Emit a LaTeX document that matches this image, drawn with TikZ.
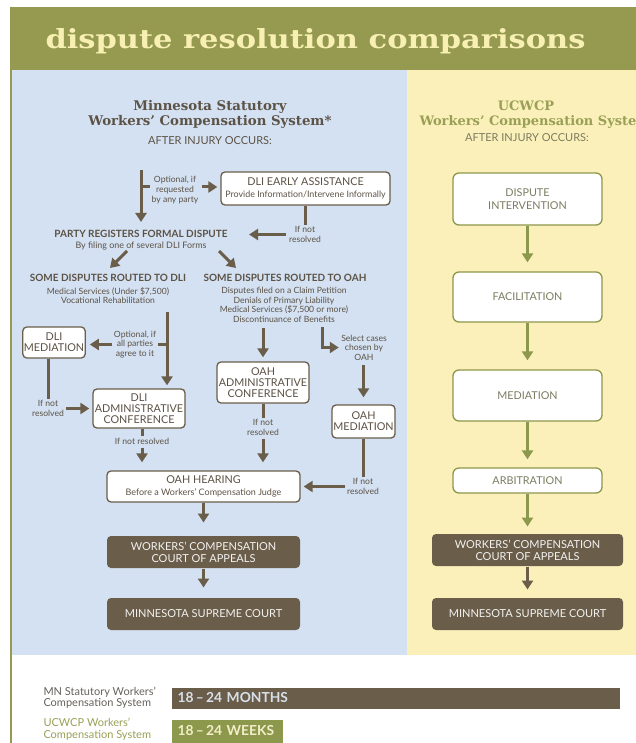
\documentclass[tikz,border=0pt]{standalone}
\usepackage{graphicx}
\usepackage{fontspec}
\setmainfont{DejaVu Serif}
\setsansfont{Lato}
\usetikzlibrary{arrows.meta, positioning, calc}
\definecolor{colive}{HTML}{959A50}
\definecolor{ccream}{HTML}{F7F0B2}
\definecolor{cblue}{HTML}{D3E1F2}
\definecolor{cyellow}{HTML}{FBF0B9}
\definecolor{cdark}{HTML}{6A5D4A}
\definecolor{ctext}{HTML}{5C5245}
\definecolor{cgreen}{HTML}{8C984B}
\definecolor{chead}{HTML}{99A056}
\definecolor{cgtext}{HTML}{7C7C62}
\definecolor{cgrey}{HTML}{66625C}
\definecolor{cpale}{HTML}{D8E0EA}
\definecolor{cwheat}{HTML}{F3EDC9}
\tikzset{
  every picture/.style={font=\sffamily, line width=1pt},
  lbox/.style={draw=cdark, fill=white, rounded corners=4pt, line width=1.3pt, align=center, text=ctext, inner sep=1pt, font=\sffamily\fontsize{10.8}{11}\selectfont},
  dbox/.style={fill=cdark, rounded corners=4pt, align=center, text=white!92!cdark, minimum height=32pt, font=\sffamily\fontsize{11}{12}\selectfont},
  ubox/.style={draw=cgreen, fill=white, rounded corners=6pt, line width=1.3pt, align=center, text=cgtext, minimum width=149pt, font=\sffamily\fontsize{10.8}{12.5}\selectfont},
  note/.style={font=\sffamily\fontsize{8.6}{9.6}\selectfont, text=ctext, align=center, inner sep=1pt},
  head/.style={font=\sffamily\bfseries\fontsize{10}{10}\selectfont, text=ctext, inner sep=1pt},
  link/.style={draw=cdark, line width=3pt},
  arrow/.style={link, -{Triangle[length=9pt, width=11pt]}},
  garrow/.style={arrow, draw=cgreen},
  bar/.style={anchor=north west, fill=#1, minimum height=21pt, inner xsep=6pt, inner ysep=0pt, align=left, font=\sffamily\bfseries\fontsize{13.8}{14}\selectfont},
  lbl/.style={anchor=west, align=left, inner sep=0pt, font=\sffamily\fontsize{11}{11.5}\selectfont},
}

\begin{document}
\begin{tikzpicture}[x=1pt, y=-1pt]
  \useasboundingbox (0,0) rectangle (636,743);
  % backgrounds
  \fill[white] (0,0) rectangle (636,743);
  \fill[colive] (11,7) rectangle (636,70);
  \fill[cblue] (12,70) rectangle (407,655);
  \fill[cyellow] (407,70) rectangle (636,655);
  \draw[colive, line width=1.2pt] (11,7) -- (11,743);
  \node[anchor=base west, inner sep=0pt, text=ccream, font=\rmfamily\bfseries] (title) at (45,49) {\resizebox{540pt}{20pt}{dispute resolution comparisons}};

  % Minnesota statutory side
  \node[text=ctext, align=center, font=\rmfamily\bfseries\fontsize{13.3}{15}\selectfont] (mnhead) at (210,114) {Minnesota Statutory\\Workers' Compensation System*};
  \node[text=ctext, font=\sffamily\fontsize{11}{12}\selectfont] (mnafter) at (210,141) {AFTER INJURY OCCURS:};

  \node[lbox, minimum width=169pt, minimum height=33pt] (early) at (305.5,188.5) {DLI EARLY ASSISTANCE\\[1pt]{\fontsize{8.9}{9}\selectfont Provide Information/Intervene Informally}};
  \node[note] (reqnote) at (175,190) {Optional, if\\requested\\by any party};
  \coordinate (start) at (141,170);
  \coordinate (reqA) at (141,187);
  \coordinate (partytop) at (141,222);
  \draw[arrow] (start) -- (partytop);
  \draw[link] (reqA) -- (reqA -| reqnote.west);
  \draw[arrow, shorten <=2pt, shorten >=3pt] (reqA -| reqnote.east) -- (reqA -| early.west);

  \node[note] (nr1) at (305,234.5) {If not\\resolved};
  \draw[link] (early.south) -- (early.south |- nr1.north);
  \node[note, font=\sffamily\fontsize{8.9}{11}\selectfont] (party) at (141,240) {\textbf{\fontsize{10}{11}\selectfont PARTY REGISTERS FORMAL DISPUTE}\\By filing one of several DLI Forms};
  \draw[arrow, shorten <=2pt, shorten >=20pt] (nr1.west) -- (nr1.west -| party.east);

  \coordinate (ldiagA) at (127,251);
  \coordinate (ldiagB) at (110,268);
  \coordinate (rdiagA) at (219,251);
  \coordinate (rdiagB) at (236,268);
  \draw[arrow] (ldiagA) -- (ldiagB);
  \draw[arrow] (rdiagA) -- (rdiagB);

  \node[head] (dlihead) at (108,278) {SOME DISPUTES ROUTED TO DLI};
  \node[note] (dlitxt) at (108,295.5) {Medical Services (Under \$7,500)\\Vocational Rehabilitation};
  \node[head] (oahhead) at (285,278) {SOME DISPUTES ROUTED TO OAH};
  \node[note] (oahtxt) at (284,305) {Disputes filed on a Claim Petition\\Denials of Primary Liability\\Medical Services (\$7,500 or more)\\Discontinuance of Benefits};

  % DLI branch
  \node[lbox, minimum width=62pt, minimum height=31pt] (dlimed) at (54,342.5) {DLI\\MEDIATION};
  \node[lbox, minimum width=92pt, minimum height=39pt] (dliadm) at (139,408.5) {DLI\\ADMINISTRATIVE\\CONFERENCE};
  \node[note] (agree) at (135,344.5) {Optional, if\\all parties\\agree to it};
  \coordinate (dliA) at (167,312);
  \draw[arrow, shorten >=3pt] (dliA) -- (dliA |- dliadm.north);
  \draw[link] (dliA |- agree.east) -- (agree.east);
  \draw[arrow, shorten >=4pt] (agree.west) -- (agree.west -| dlimed.east);
  \node[note] (nr2) at (48,408.5) {If not\\resolved};
  \draw[link] (dlimed.south -| nr2.north) -- (nr2.north);
  \draw[arrow, shorten <=1pt, shorten >=3pt] (nr2.east) -- (dliadm.west);
  \node[note] (nr3) at (142,441) {If not resolved};
  \draw[link] (dliadm.south -| nr3.north) -- (nr3.north);

  \node[lbox, minimum width=193pt, minimum height=31pt] (hearing) at (203.5,486.5) {OAH HEARING\\[1pt]{\fontsize{9}{9}\selectfont Before a Workers' Compensation Judge}};
  \draw[arrow, shorten <=2pt, shorten >=8pt] (nr3.south) -- (nr3.south |- hearing.north);

  % OAH branch
  \node[lbox, minimum width=92pt, minimum height=41pt] (oahadm) at (263,382.5) {OAH\\ADMINISTRATIVE\\CONFERENCE};
  \draw[arrow, shorten <=4pt, shorten >=4pt] (oahtxt.south -| oahadm.north) -- (oahadm.north);
  \node[note] (nr4) at (263,427.5) {If not\\resolved};
  \draw[link] (oahadm.south) -- (nr4.north);
  \draw[arrow, shorten <=2pt, shorten >=8pt] (nr4.south) -- (nr4.south |- hearing.north);

  \node[note] (sel) at (364,347.5) {Select cases\\chosen by\\OAH};
  \coordinate (selA) at (322,327);
  \draw[arrow, shorten >=1pt] (selA) |- (sel.west);
  \node[lbox, minimum width=63pt, minimum height=33pt] (oahmed) at (363.5,421.5) {OAH\\MEDIATION};
  \draw[arrow, shorten <=3pt, shorten >=7pt] (sel.south -| oahmed.north) -- (oahmed.north);
  \node[note] (nr5) at (363,486.5) {If not\\resolved};
  \draw[link] (oahmed.south -| nr5.north) -- (nr5.north);
  \draw[arrow, shorten <=1pt, shorten >=3pt] (nr5.west) -- (hearing.east);

  \node[dbox, minimum width=193pt] (wcca) at (203.5,552) {WORKERS' COMPENSATION\\COURT OF APPEALS};
  \node[dbox, minimum width=193pt] (msc) at (203.5,614) {MINNESOTA SUPREME COURT};
  \draw[arrow, shorten >=13pt] (hearing.south) -- (wcca.north);
  \draw[arrow, shorten >=10pt] (wcca.south) -- (msc.north);

  % UCWCP side
  \node[text=chead, font=\rmfamily\bfseries\fontsize{13}{15}\selectfont] (uchead) at (526,106) {UCWCP};
  \node[anchor=west, inner sep=0pt, text=chead, font=\rmfamily\bfseries\fontsize{13}{15}\selectfont] (ucsys) at (419,122) {Workers' Compensation System};
  \node[text=cgtext, font=\sffamily\fontsize{11}{12}\selectfont] (ucafter) at (527,138) {AFTER INJURY OCCURS:};

  \node[ubox, minimum height=52pt] (dispint) at (527.5,199) {DISPUTE\\INTERVENTION};
  \node[ubox, minimum height=50pt] (facil) at (527.5,297) {FACILITATION};
  \node[ubox, minimum height=51pt] (ucmed) at (527.5,395.5) {MEDIATION};
  \node[ubox, minimum height=25pt] (arbit) at (527.5,480.5) {ARBITRATION};
  \node[dbox, minimum width=191pt] (ucwcca) at (527.5,550) {WORKERS' COMPENSATION\\COURT OF APPEALS};
  \node[dbox, minimum width=191pt] (ucmsc) at (527.5,614) {MINNESOTA SUPREME COURT};
  \draw[garrow, shorten >=9pt] (dispint.south) -- (facil.north);
  \draw[garrow, shorten >=9pt] (facil.south) -- (ucmed.north);
  \draw[garrow, shorten >=8pt] (ucmed.south) -- (arbit.north);
  \draw[garrow, shorten >=7pt] (arbit.south) -- (ucwcca.north);
  \draw[arrow, shorten >=8pt] (ucwcca.south) -- (ucmsc.north);

  % time comparison
  \node[lbl, text=cgrey] (mnlbl) at (43,697.5) {MN Statutory Workers'\\Compensation System};
  \node[bar=cdark, text=cpale, text width=436pt] (mnbar) at (171,687) {18\,–\,24 MONTHS};
  \node[lbl, text=chead] (uclbl) at (43,729) {UCWCP Workers'\\Compensation System};
  \node[bar=cgreen, text=cwheat, text width=99pt, minimum height=23pt] (ucbar) at (171,719) {18\,–\,24 WEEKS};
\end{tikzpicture}
\end{document}
